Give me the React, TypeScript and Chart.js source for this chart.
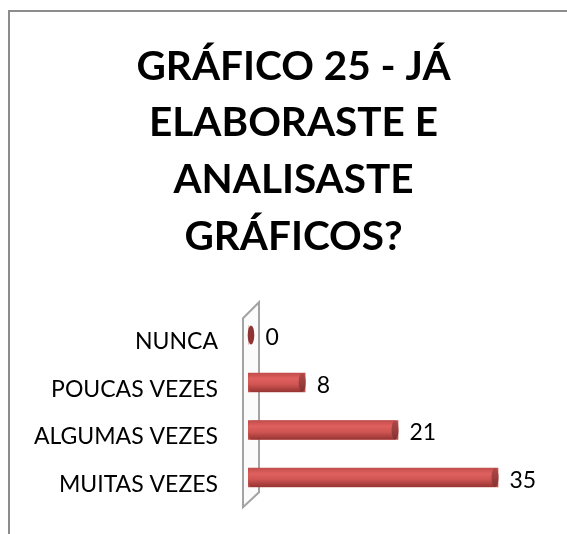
import React, { useEffect, useRef } from "react";
import { Chart, registerables } from "chart.js";

Chart.register(...registerables);

const categories = ["NUNCA", "POUCAS VEZES", "ALGUMAS VEZES", "MUITAS VEZES"];
const values = [0, 8, 21, 35];
const titleLines = ["GRÁFICO 25 - JÁ", "ELABORASTE E", "ANALISASTE", "GRÁFICOS?"];
const xAxisMin = 0;
const xAxisMax = 44.66;

const W = 567;
const H = 534;

const framePlugin = {
  id: "frame",
  beforeDraw(chart: any) {
    const ctx = chart.ctx;
    ctx.save();
    ctx.strokeStyle = "#8c8c8c";
    ctx.lineWidth = 2;
    ctx.beginPath();
    ctx.moveTo(9, H);
    ctx.lineTo(9, 11);
    ctx.lineTo(W, 11);
    ctx.stroke();
    ctx.restore();
  },
};

const wallPlugin = {
  id: "wall",
  beforeDatasetsDraw(chart: any) {
    const ctx = chart.ctx;
    const x0 = chart.scales.x.getPixelForValue(0);
    const { top, bottom } = chart.chartArea;
    ctx.save();
    ctx.beginPath();
    ctx.moveTo(x0 - 5, top + 7);
    ctx.lineTo(x0 + 11, top - 9);
    ctx.lineTo(x0 + 11, bottom - 9);
    ctx.lineTo(x0 - 5, bottom + 6);
    ctx.closePath();
    ctx.fillStyle = "#fbfbfb";
    ctx.fill();
    ctx.strokeStyle = "#a3a3a3";
    ctx.lineWidth = 2;
    ctx.stroke();
    ctx.restore();
  },
};

const cylinderPlugin = {
  id: "cylinders",
  afterDatasetsDraw(chart: any) {
    const ctx = chart.ctx;
    const meta = chart.getDatasetMeta(0);
    meta.data.forEach((bar: any, i: number) => {
      const { x, y, base, height } = bar.getProps(["x", "y", "base", "height"], true);
      const t = y - height / 2;
      const b = y + height / 2;
      const ry = height / 2;
      ctx.save();
      if (x - base > 6) {
        const g = ctx.createLinearGradient(0, t, 0, b);
        g.addColorStop(0, "#c24d4b");
        g.addColorStop(0.3, "#e0605e");
        g.addColorStop(0.6, "#cf5553");
        g.addColorStop(1, "#963432");
        ctx.beginPath();
        ctx.moveTo(base + 3, t);
        ctx.lineTo(x - 3, t);
        ctx.lineTo(x - 3, b);
        ctx.lineTo(base + 3, b);
        ctx.ellipse(base + 3, y, 3, ry, 0, Math.PI / 2, (3 * Math.PI) / 2);
        ctx.closePath();
        ctx.fillStyle = g;
        ctx.fill();
        const gc = ctx.createLinearGradient(0, t, 0, b);
        gc.addColorStop(0, "#b04846");
        gc.addColorStop(0.5, "#9c3f3d");
        gc.addColorStop(1, "#823130");
        ctx.beginPath();
        ctx.ellipse(x - 3, y, 3.5, ry, 0, 0, Math.PI * 2);
        ctx.fillStyle = gc;
        ctx.fill();
      } else {
        ctx.beginPath();
        ctx.ellipse(base + 3, y, 3.3, ry, 0, 0, Math.PI * 2);
        ctx.fillStyle = "#8e3533";
        ctx.fill();
      }
      const capX = x - base > 6 ? x - 3 : base + 3;
      ctx.fillStyle = "#000000";
      ctx.font = "23px Lato";
      ctx.textAlign = "left";
      ctx.textBaseline = "middle";
      ctx.fillText(String(values[i]), capX + 14.5, y + 3);
      ctx.restore();
    });
  },
};

export default function App() {
  const ref = useRef<HTMLCanvasElement | null>(null);
  useEffect(() => {
    if (!ref.current) return;
    const chart = new Chart(ref.current, {
      type: "bar",
      data: {
        labels: categories,
        datasets: [
          {
            data: values,
            backgroundColor: "#c0504d",
            barThickness: 19,
            borderWidth: 0,
          },
        ],
      },
      options: {
        indexAxis: "y",
        animation: false,
        responsive: false,
        devicePixelRatio: 1,
        layout: { padding: { left: 20, right: 0, top: 0, bottom: 32.75 } },
        plugins: {
          legend: { display: false },
          tooltip: { enabled: false },
          title: {
            display: true,
            text: titleLines,
            color: "#000000",
            font: { family: "Lato", weight: "bold", size: 40.5, lineHeight: "56.7px" },
            padding: { top: 38.15, bottom: 46.3 },
          },
        },
        scales: {
          x: { display: false, min: xAxisMin, max: xAxisMax },
          y: {
            afterFit(scale: any) {
              scale.width = 228;
              scale.paddingTop = 0;
              scale.paddingBottom = 0;
            },
            grid: { display: false, drawTicks: false },
            border: { display: false },
            ticks: {
              autoSkip: false,
              color: "#000000",
              padding: 30,
              labelOffset: 7,
              font: { family: "Lato", size: 23 },
            },
          },
        },
      },
      plugins: [framePlugin, wallPlugin, cylinderPlugin],
    } as any);
    return () => chart.destroy();
  }, []);
  return (
    <div style={{ position: "fixed", left: 0, top: 0, width: W, height: H, background: "#ffffff" }}>
      <canvas ref={ref} width={W} height={H} style={{ display: "block", width: W, height: H }} />
    </div>
  );
}
